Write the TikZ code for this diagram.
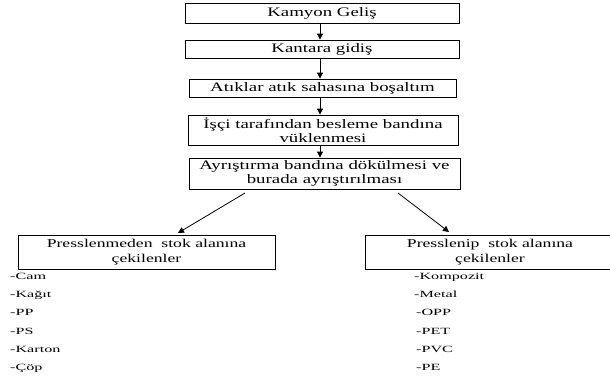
\documentclass[tikz,border=0pt]{standalone}
\usepackage{fontspec}
\setmainfont{Liberation Serif}
\newfontfamily\boxfont[FakeStretch=1.45]{Liberation Serif}
\newfontfamily\lowfont[FakeStretch=1.47]{Liberation Serif}
\newfontfamily\listfont[FakeStretch=1.7]{Liberation Serif}
\usetikzlibrary{arrows.meta}
\begin{document}
\begin{tikzpicture}[x=1pt,y=-1pt,
  stepbox/.style={draw=black, line width=0.8pt, inner sep=0pt, align=center,
    font=\boxfont\fontsize{13}{14.5}\selectfont},
  endbox/.style={draw=black, line width=0.8pt, inner sep=0pt, align=center,
    minimum height=34, font=\lowfont\fontsize{12}{15}\selectfont},
  item/.style={anchor=base west, inner sep=0pt, font=\listfont\fontsize{9.5}{11}\selectfont},
  arr/.style={line width=0.8pt, -{Triangle[length=6pt,width=6pt]}}]
\useasboundingbox (0,0) rectangle (610,380);
\clip (0,0) rectangle (610,380);

% process chain
\node[stepbox, minimum width=274, minimum height=20] (b1) at (322,13) {Kamyon Geliş};
\node[stepbox, minimum width=274, minimum height=18] (b2) at (322,49) {Kantara gidiş};
\node[stepbox, minimum width=267, minimum height=18] (b3) at (322.5,88) {Atıklar atık sahasına boşaltım};
\node[stepbox, minimum width=270, minimum height=30] (b4) at (323,130) {İşçi tarafından besleme bandına\\vüklenmesi};
\node[stepbox, minimum width=271, minimum height=31] (b5) at (324.5,173.5) {Ayrıştırma bandına dökülmesi ve\\burada ayrıştırılması};

\coordinate (ax) at (320,0);
\draw[arr] (b1.south -| ax) -- (b2.north -| ax);
\draw[arr] (b2.south -| ax) -- (b3.north -| ax);
\draw[arr] (b3.south -| ax) -- (b4.north -| ax);
\draw[arr] (b4.south -| ax) -- (b5.north -| ax);

% the two storage branches
\node[endbox, minimum width=257] (lb) at (146.5,252) {Presslenmeden\ \ stok alanına\\çekilenler};
\node[endbox, minimum width=250] (rb) at (490,252) {Presslenip\ \ stok alanına\\çekilenler};

\coordinate (ls) at (245,193);
\coordinate (lt) at (178,233);
\coordinate (rs) at (398,193);
\coordinate (rt) at (449,232);
\draw[arr] (ls) -- (lt);
\draw[arr] (rs) -- (rt);

% materials stored without pressing
\node[item] (l1) at (10,279) {-Cam};
\node[item] (l2) at (10,297) {-Kağıt};
\node[item] (l3) at (10,315.5) {-PP};
\node[item] (l4) at (10,334) {-PS};
\node[item] (l5) at (10,352) {-Karton};
\node[item] (l6) at (10,370) {-Çöp};

% materials pressed before storage
\node[item] (r1) at (414,279) {-Kompozit};
\node[item] (r2) at (414,297) {-Metal};
\node[item] (r3) at (416,315.5) {-OPP};
\node[item] (r4) at (416,334) {-PET};
\node[item] (r5) at (416,352) {-PVC};
\node[item] (r6) at (416,370) {-PE};
\end{tikzpicture}
\end{document}
